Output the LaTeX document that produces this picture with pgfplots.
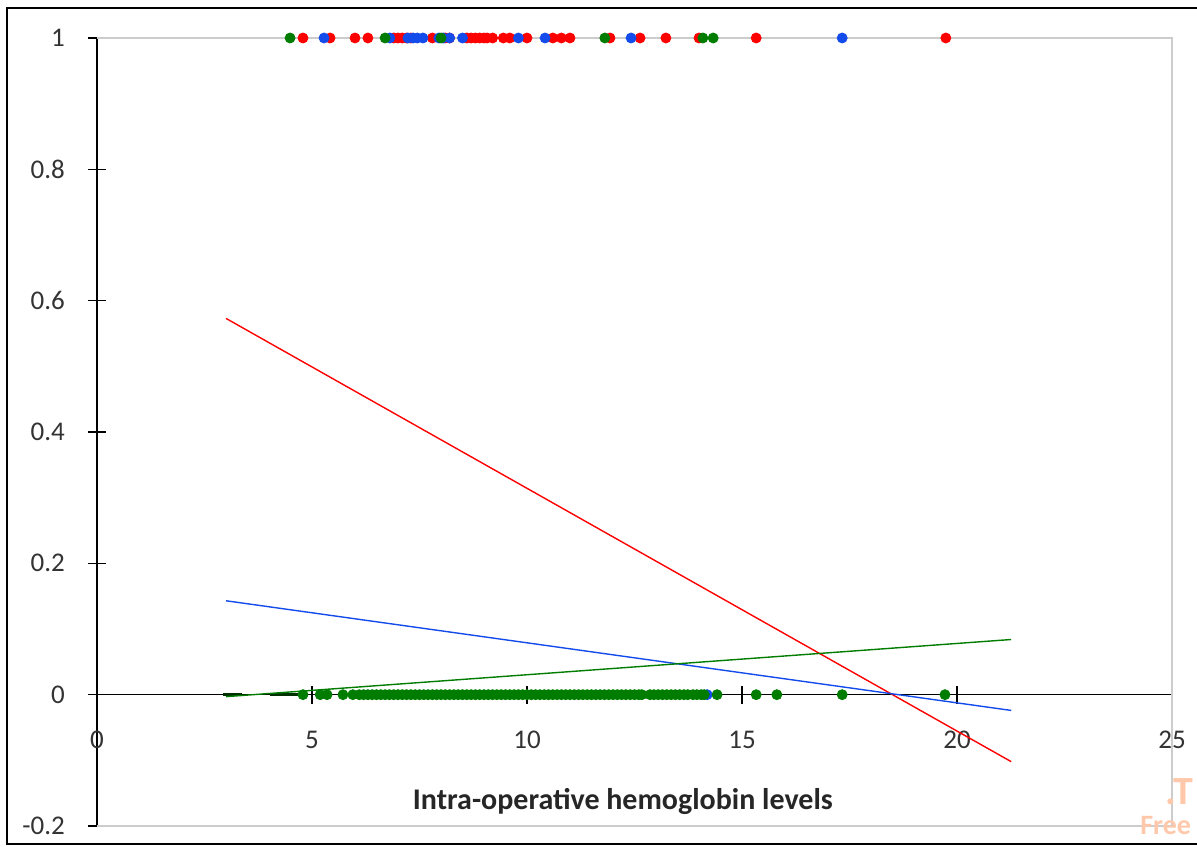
\documentclass[border=0pt]{standalone}
\usepackage{pgfplots}
\pgfplotsset{compat=1.18}
\usepackage{fontspec}
\setmainfont{Carlito}
\definecolor{xred}{RGB}{255,0,0}
\definecolor{xblue}{RGB}{20,75,235}
\definecolor{xgreen}{RGB}{0,125,0}
\definecolor{wm}{RGB}{255,200,170}
\begin{document}
\begin{tikzpicture}
\begin{axis}[
  scale only axis, width=537.5pt, height=394pt,
  xmin=0, xmax=25, ymin=-0.2, ymax=1,
  axis lines=middle, axis line style={black, line width=0.8pt, -},
  hide obscured x ticks=false, hide obscured y ticks=false,
  xtick={0,5,...,25}, ytick={-0.2,0,0.2,0.4,0.6,0.8,1},
  yticklabels={-0.2,0,0.2,0.4,0.6,0.8,1},
  xticklabels={0,5,10,15,20,25},
  tick align=center, major tick length=9pt,
  tick style={black, line width=0.8pt},
  every tick label/.append style={font=\fontsize{13.5}{15}\selectfont, text=black!80},
  /pgf/number format/assume math mode=true,
  xticklabel style={yshift=-10pt},
  yticklabel style={xshift=-8pt},
  clip=false,
]
\draw[black!20, line width=1pt] (rel axis cs:0,1) -- (rel axis cs:1,1) -- (rel axis cs:1,0) -- (rel axis cs:0,0);
% dark dashes
\addplot[black!60!xgreen, line width=1.6pt] coordinates {(2.93,0)(3.37,0)};
\addplot[black!60!xgreen, line width=1.6pt] coordinates {(4.02,0)(4.67,0)};
% blue at 0
\addplot[only marks, mark=*, mark size=2.5pt, color=xblue] coordinates {(14.19,0)};
% red at 1
\addplot[only marks, mark=*, mark size=2.5pt, color=xred] coordinates {
(4.79,1)(5.42,1)(6.0,1)(6.3,1)(6.9,1)(7.0,1)(7.1,1)(7.2,1)(7.3,1)(7.8,1)(8.1,1)(8.2,1)
(8.6,1)(8.7,1)(8.8,1)(8.9,1)(9.0,1)(9.07,1)(9.2,1)(9.45,1)(9.6,1)(10.0,1)(10.6,1)(10.8,1)
(11.0,1)(11.93,1)(12.63,1)(13.23,1)(14.0,1)(15.33,1)(19.74,1)};
% blue at 1
\addplot[only marks, mark=*, mark size=2.5pt, color=xblue] coordinates {
(5.28,1)(6.81,1)(7.23,1)(7.35,1)(7.45,1)(7.58,1)(7.95,1)(8.05,1)(8.2,1)(8.5,1)(9.8,1)(10.42,1)(12.42,1)(17.33,1)};
% green at 1
\addplot[only marks, mark=*, mark size=2.5pt, color=xgreen] coordinates {
(4.49,1)(6.7,1)(8.0,1)(11.81,1)(14.09,1)(14.33,1)};
% green at 0
\addplot[only marks, mark=*, mark size=2.5pt, color=xgreen] coordinates {
(4.79,0)(5.19,0)(5.35,0)(5.72,0)(5.95,0)
(6.1,0)(6.2,0)(6.3,0)(6.4,0)(6.5,0)(6.6,0)(6.7,0)(6.8,0)(6.9,0)(7.0,0)
(7.1,0)(7.2,0)(7.3,0)(7.4,0)(7.5,0)(7.6,0)(7.7,0)(7.8,0)(7.9,0)(8.0,0)
(8.1,0)(8.2,0)(8.3,0)(8.4,0)(8.5,0)(8.6,0)(8.7,0)(8.8,0)(8.9,0)(9.0,0)
(9.1,0)(9.2,0)(9.3,0)(9.4,0)(9.5,0)(9.6,0)(9.7,0)(9.8,0)(9.9,0)(10.0,0)
(10.1,0)(10.2,0)(10.3,0)(10.4,0)(10.5,0)(10.6,0)(10.7,0)(10.8,0)(10.9,0)(11.0,0)
(11.1,0)(11.2,0)(11.3,0)(11.4,0)(11.5,0)(11.6,0)(11.7,0)(11.8,0)(11.9,0)(12.0,0)
(12.1,0)(12.2,0)(12.3,0)(12.4,0)(12.5,0)(12.6,0)(12.67,0)
(12.86,0)(12.95,0)(13.05,0)(13.15,0)(13.25,0)(13.35,0)(13.45,0)(13.55,0)(13.65,0)(13.74,0)
(13.86,0)(13.95,0)(14.05,0)(14.12,0)
(14.42,0)(15.33,0)(15.81,0)(17.33,0)(19.72,0)};
% trend lines
\addplot[xred, line width=0.7pt] coordinates {(3.0,0.573)(21.26,-0.102)};
\addplot[xblue, line width=0.7pt] coordinates {(3.0,0.143)(21.26,-0.024)};
\addplot[xgreen, line width=0.7pt] coordinates {(3.0,-0.003)(21.26,0.084)};
\node[font=\bfseries\fontsize{15}{17}\selectfont, text=black!85] at (axis cs:12.23,-0.163) {Intra-operative hemoglobin levels};
\node[font=\bfseries\fontsize{20}{22}\selectfont, text=wm, anchor=east, inner sep=0pt] at (axis cs:25.5,-0.148) {.T};
\node[font=\bfseries\fontsize{14}{15}\selectfont, text=wm, anchor=south east, inner sep=0pt] at (axis cs:25.45,-0.214) {Free};
\draw[black, line width=1.2pt] ([shift={(555pt,-9pt)}]rel axis cs:0,0) -- ([shift={(-45pt,-9pt)}]rel axis cs:0,0) -- ([shift={(-45pt,409pt)}]rel axis cs:0,0) -- ([shift={(555pt,409pt)}]rel axis cs:0,0);
\coordinate (bbA) at ([shift={(-48.5pt,-10pt)}]rel axis cs:0,0);
\coordinate (bbB) at ([shift={(550pt,413pt)}]rel axis cs:0,0);
\end{axis}
\pgfresetboundingbox
\useasboundingbox (bbA) rectangle (bbB);
\end{tikzpicture}
\end{document}
